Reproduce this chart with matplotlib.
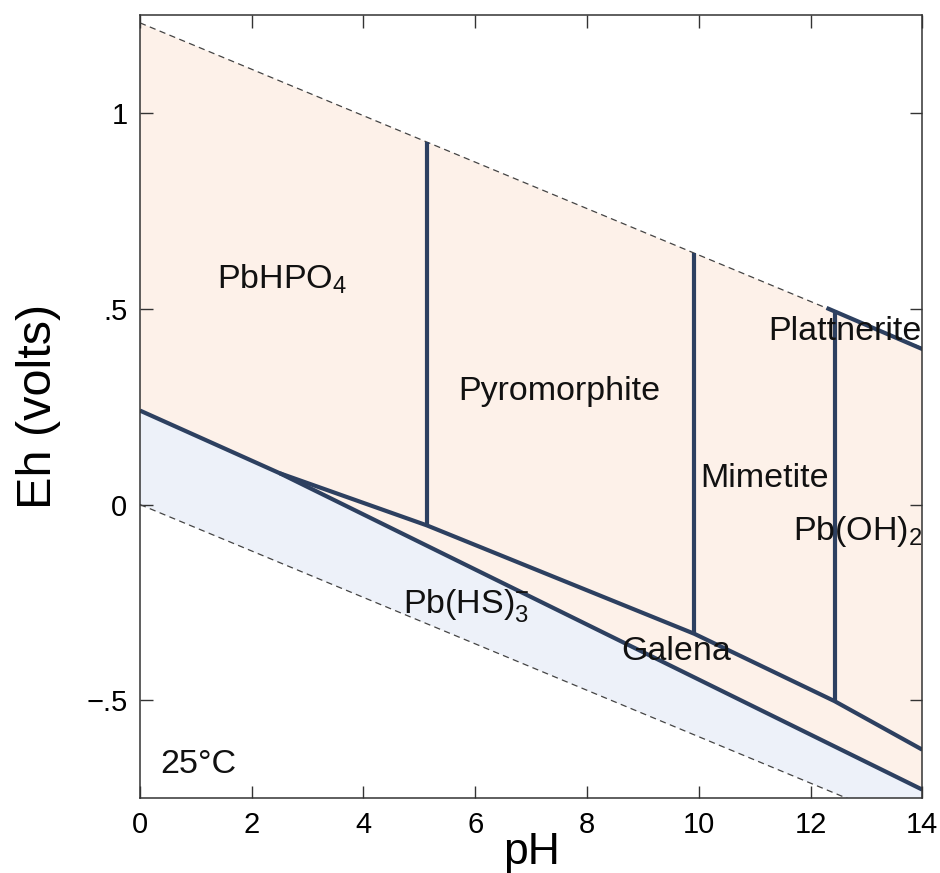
import matplotlib
matplotlib.use("Agg")
import matplotlib.pyplot as plt

plt.rcParams['font.family'] = ['Liberation Sans', 'DejaVu Sans']
plt.rcParams['mathtext.default'] = 'regular'

# water stability limits (dashed)
h2o_ph = [0, 14]
o2_eh = [1.23, 0.40]
h2_eh = [0.0, -0.83]

# lower boundary: Pb(HS)3- / Galena field
low_ph = [0, 2.5, 14]
low_eh = [0.24, 0.08, -0.728]

# upper boundary: phosphate/arsenate minerals over Galena
up_ph = [2.5, 5.13, 9.92, 12.43, 14]
up_eh = [0.08, -0.053, -0.33, -0.502, -0.626]

# vertical boundaries between the minerals
vert_ph = [5.13, 9.92, 12.43]
vert_bot = [-0.053, -0.33, -0.502]
vert_top = [0.926, 0.643, 0.496]

# Plattnerite / Pb(OH)2
plat_ph = [12.32, 14]
plat_eh = [0.50, 0.397]

labels = ['PbHPO$_4$', 'Pyromorphite', 'Mimetite', 'Plattnerite',
          'Pb(OH)$_2$', 'Pb(HS)$_3^{-}$', 'Galena', '25°C']
lab_ph = [1.37, 5.70, 10.02, 11.24, 11.68, 4.70, 8.62, 0.36]
lab_eh = [0.552, 0.267, 0.045, 0.42, -0.091, -0.278, -0.396, -0.686]

navy = '#2d4060'
peach = '#fdf1e9'
blue = '#edf1f9'

fig = plt.figure(figsize=(9.4, 8.73), dpi=100)
ax = fig.add_axes([0.1489, 0.0856, 0.8323, 0.8972])

# fills
ax.fill(h2o_ph + low_ph[::-1], o2_eh + low_eh[::-1], color=peach, lw=0, zorder=0)
ax.fill(low_ph + h2o_ph[::-1], low_eh + h2_eh[::-1], color=blue, lw=0, zorder=0)

ax.plot(h2o_ph, o2_eh, ls=(0, (5, 3.5)), color='#444444', lw=0.9)
ax.plot(h2o_ph, h2_eh, ls=(0, (5, 3.5)), color='#444444', lw=0.9)

ax.plot(low_ph, low_eh, color=navy, lw=3, solid_capstyle='butt')
ax.plot(up_ph, up_eh, color=navy, lw=3, solid_capstyle='butt')
ax.vlines(vert_ph, vert_bot, vert_top, color=navy, lw=3)
ax.plot(plat_ph, plat_eh, color=navy, lw=3)

for t, x, y in zip(labels, lab_ph, lab_eh):
    ax.text(x, y, t, fontsize=24.5, ha='left', va='baseline', color='#111111')

ax.set_xlim(0, 14)
ax.set_ylim(-0.75, 1.25)
ax.set_xticks(range(0, 15, 2))
ax.set_yticks([-0.5, 0, 0.5, 1])
ax.set_yticklabels(['\u2212.5', '0', '.5', '1'])
ax.tick_params(direction='in', length=9, width=1, labelsize=21, pad=9,
               top=True, right=True, color='#333333')
for s in ax.spines.values():
    s.set_linewidth(1.1)
    s.set_color('#333333')

ax.set_xlabel('pH', fontsize=32, labelpad=-5)
ax.set_ylabel('Eh (volts)', fontsize=35, labelpad=18)

fig.savefig('out.png', dpi=100)
